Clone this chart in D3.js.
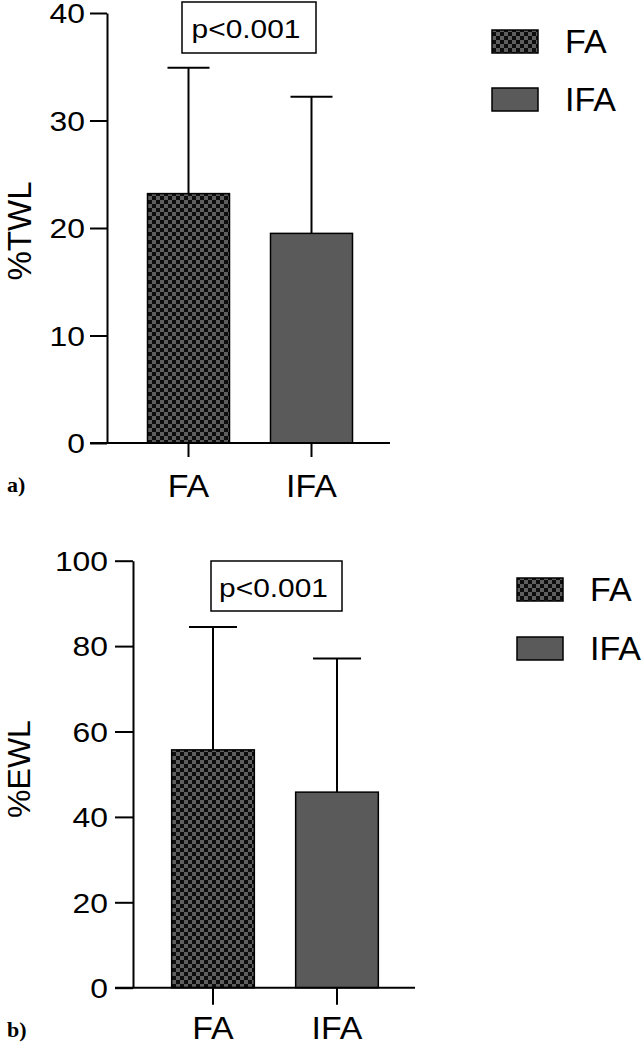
<!DOCTYPE html>
<html><head><meta charset="utf-8">
<script src="https://cdn.jsdelivr.net/npm/d3@7"></script>
<style>
html,body{margin:0;padding:0;background:#fff;}
svg{display:block;}
text{font-family:"Liberation Sans",Arial,Helvetica,sans-serif;fill:#000;}
</style></head>
<body>
<svg id="chart" width="644" height="1048"></svg>
<script>
// ---- data ----
const categories = ["FA", "IFA"];
const twlMean = [23.2, 19.5];
const twlSD = [11.7, 12.7];
const ewlMean = [55.7, 45.8];
const ewlSD = [28.8, 31.3];
const twlTicks = [0, 10, 20, 30, 40];
const ewlTicks = [0, 20, 40, 60, 80, 100];
const pLabel = "p<0.001";

const svg = d3.select("#chart");
const defs = svg.append("defs");
const pat = defs.append("pattern").attr("id", "checker")
  .attr("patternUnits", "userSpaceOnUse").attr("width", 8).attr("height", 8);
pat.append("rect").attr("width", 8).attr("height", 8).attr("fill", "#0d0d0d");
pat.append("rect").attr("x", 0).attr("y", 0).attr("width", 4).attr("height", 4).attr("fill", "#5e5e5e");
pat.append("rect").attr("x", 4).attr("y", 4).attr("width", 4).attr("height", 4).attr("fill", "#5e5e5e");

const fills = ["url(#checker)", "#5a5a5a"];

// horizontal stretch around the anchor x
function stretch(sel, s) {
  sel.each(function() {
    const t = d3.select(this);
    const x = +t.attr("x") || 0;
    t.attr("transform", `translate(${x * (1 - s)},0) scale(${s},1)`);
  });
}

function panel(cfg) {
  const g = svg.append("g");
  const y = d3.scaleLinear().domain(cfg.domain).range([cfg.y0, cfg.y1]);
  const x = d3.scaleBand().domain(categories).range(cfg.xr).paddingInner(1/3).paddingOuter(1/6);
  const data = categories.map((c, i) => ({c, m: cfg.mean[i], s: cfg.sd[i], i}));

  // error bars
  const eg = g.append("g").attr("stroke", "#000").attr("stroke-width", 2);
  eg.selectAll("line.v").data(data).join("line")
    .attr("x1", d => x(d.c) + x.bandwidth()/2).attr("x2", d => x(d.c) + x.bandwidth()/2)
    .attr("y1", d => y(d.m)).attr("y2", d => y(d.m + d.s));
  eg.selectAll("line.cap").data(data).join("line")
    .attr("x1", d => x(d.c) + x.bandwidth()/2 - cfg.cap).attr("x2", d => x(d.c) + x.bandwidth()/2 + cfg.cap)
    .attr("y1", d => y(d.m + d.s)).attr("y2", d => y(d.m + d.s));

  // bars
  g.selectAll("rect.bar").data(data).join("rect")
    .attr("x", d => x(d.c)).attr("width", x.bandwidth())
    .attr("y", d => y(d.m)).attr("height", d => y(0) - y(d.m))
    .attr("fill", d => fills[d.i]).attr("stroke", "#000").attr("stroke-width", 1.5);

  // y axis
  const ya = g.append("g").attr("transform", `translate(${cfg.ax},0)`)
    .call(d3.axisLeft(y).tickValues(cfg.ticks).tickSize(cfg.tickLen).tickPadding(cfg.tickPad).tickSizeOuter(0));
  ya.select(".domain").attr("stroke-width", 2);
  ya.selectAll(".tick line").attr("stroke-width", 2);
  const tt = ya.selectAll(".tick text").attr("font-size", cfg.tickFont).attr("fill", "#000")
    .attr("dy", "0.36em")
    .style("font-family", '"Liberation Sans",Arial,sans-serif');
  stretch(tt, 1.18);

  // x axis line
  g.append("line").attr("x1", cfg.ax - cfg.tickLen).attr("x2", cfg.xEnd)
    .attr("y1", y(0)).attr("y2", y(0)).attr("stroke", "#000").attr("stroke-width", 2);
  // x ticks
  g.selectAll("line.xt").data(categories).join("line")
    .attr("x1", c => x(c) + x.bandwidth()/2).attr("x2", c => x(c) + x.bandwidth()/2)
    .attr("y1", y(0)).attr("y2", y(0) + cfg.xTickLen).attr("stroke", "#000").attr("stroke-width", 2);
  const xl = g.selectAll("text.xl").data(categories).join("text")
    .attr("x", c => x(c) + x.bandwidth()/2).attr("y", cfg.xLabelY)
    .attr("text-anchor", "middle").attr("font-size", cfg.xFont).text(c => c);
  stretch(xl, 1.06);

  // y label
  g.append("text").attr("transform", `translate(${cfg.ylx},${cfg.yly}) rotate(-90)`)
    .attr("text-anchor", "middle").attr("font-size", cfg.ylFont).text(cfg.yLabel);

  // p box
  g.append("rect").attr("x", cfg.pBox[0]).attr("y", cfg.pBox[1]).attr("width", cfg.pBox[2]).attr("height", cfg.pBox[3])
    .attr("fill", "#fff").attr("stroke", "#000").attr("stroke-width", 1.5);
  const pt = g.append("text").attr("x", cfg.pBox[0] + cfg.pBox[2]/2 - 3).attr("y", cfg.pBase)
    .attr("text-anchor", "middle").attr("font-size", cfg.pFont).text(pLabel);
  stretch(pt, 1.15);

  // panel letter
  g.append("text").attr("x", cfg.letter[0]).attr("y", cfg.letter[1])
    .style("font-family", '"Liberation Serif","Times New Roman",serif').attr("font-weight", "bold")
    .attr("font-size", 22).text(cfg.letterText);

  // legend
  const lg = g.append("g");
  lg.selectAll("rect").data(categories).join("rect")
    .attr("x", cfg.leg[0]).attr("y", (c, i) => cfg.leg[1] + i * cfg.legStep)
    .attr("width", 46).attr("height", 23)
    .attr("fill", (c, i) => fills[i]).attr("stroke", "#000").attr("stroke-width", 1.5);
  lg.selectAll("text").data(categories).join("text")
    .attr("x", cfg.leg[0] + 73).attr("y", (c, i) => cfg.leg[1] + 23 + i * cfg.legStep)
    .attr("font-size", cfg.legFont).text(c => c);
}

panel({
  domain: [0, 40], y0: 443, y1: 13, ax: 107, xr: [127, 373], xEnd: 390,
  mean: twlMean, sd: twlSD, ticks: twlTicks, cap: 21,
  tickLen: 17, tickPad: 5, tickFont: 27, xTickLen: 14, xLabelY: 497, xFont: 32,
  ylx: 31, yly: 231, ylFont: 33, yLabel: "%TWL",
  pBox: [182, 2, 134, 51], pBase: 38, pFont: 26,
  letter: [7, 492], letterText: "a)",
  leg: [492, 30], legStep: 58, legFont: 34
});

panel({
  domain: [0, 100], y0: 987.7, y1: 560.7, ax: 133, xr: [151, 399], xEnd: 415,
  mean: ewlMean, sd: ewlSD, ticks: ewlTicks, cap: 24,
  tickLen: 18, tickPad: 7, tickFont: 27, xTickLen: 17, xLabelY: 1039, xFont: 32,
  ylx: 30, yly: 769, ylFont: 32, yLabel: "%EWL",
  pBox: [211, 561, 131, 50], pBase: 597, pFont: 26,
  letter: [7, 1037], letterText: "b)",
  leg: [517, 578], legStep: 59, legFont: 34
});
</script>
</body></html>
